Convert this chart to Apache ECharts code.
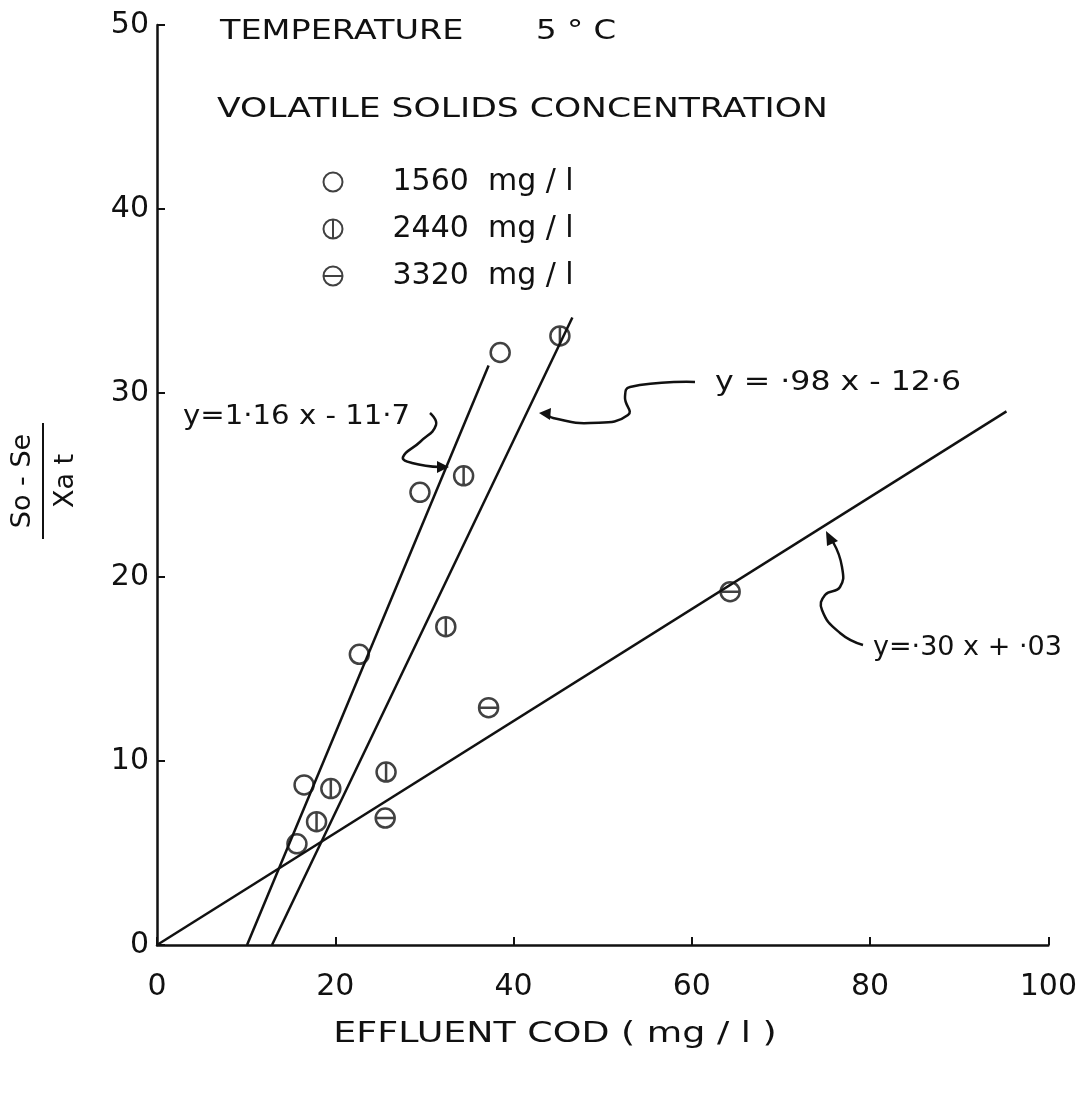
<!DOCTYPE html>
<html>
<head>
<meta charset="utf-8">
<script src="https://cdn.jsdelivr.net/npm/echarts@6/dist/echarts.min.js"></script>
<style>
  html, body { margin: 0; padding: 0; background: #fff; }
  #main { width: 1080px; height: 1095px; }
</style>
</head>
<body>
<div id="main"></div>
<script>
// ticks
const xTicks = [0, 20, 40, 60, 80, 100];
const yTicks = [0, 10, 20, 30, 40, 50];

// volatile solids 1560 mg/l  [effluent COD, (So-Se)/Xat]
const vs1560 = [[38.5, 32.2], [29.5, 24.6], [22.7, 15.8], [16.5, 8.7], [15.7, 5.5]];
// 2440 mg/l
const vs2440 = [[45.2, 33.1], [34.4, 25.5], [32.4, 17.3], [19.5, 8.5], [17.9, 6.7], [25.7, 9.4]];
// 3320 mg/l
const vs3320 = [[64.3, 19.2], [37.2, 12.9], [25.6, 6.9]];

// fitted lines as drawn
const fit1560 = [[10.1, 0], [37.2, 31.5]];
const fit2440 = [[12.9, 0], [46.6, 34.1]];
const fit3320 = [[0, 0], [95.3, 29.0]];

const names = ['1560  mg / l', '2440  mg / l', '3320  mg / l'];

const ring = 'M10,0 A10,10 0 1,1 10,20 A10,10 0 1,1 10,0 Z';
const symOpen = 'path://' + ring;
const symVert = 'path://' + ring + ' M10,0 L10,20';
const symHorz = 'path://' + ring + ' M0,10 L20,10';

const ink = '#111';
const font = 'DejaVu Sans';

const chart = echarts.init(document.getElementById('main'));

function pts(name, data, symbol) {
  return {
    name: name,
    type: 'scatter',
    data: data,
    symbol: symbol,
    symbolSize: 19,
    symbolKeepAspect: true,
    z: 3,
    itemStyle: { color: 'none', borderColor: ink, borderWidth: 2.5 }
  };
}

function fit(data) {
  return {
    type: 'line',
    data: data,
    symbol: 'none',
    silent: true,
    z: 2,
    lineStyle: { color: ink, width: 2.5 }
  };
}

function leader(points) {
  return {
    type: 'polyline',
    shape: { points: points, smooth: 0.5 },
    style: { stroke: ink, lineWidth: 2.5, fill: null }
  };
}

function label(text, x, y, size, sx, align) {
  return {
    type: 'text',
    x: x, y: y,
    scaleX: sx,
    style: { text: text, font: size + 'px "' + font + '"', fill: ink,
             textAlign: align || 'left', textVerticalAlign: 'middle' }
  };
}

const option = {
  backgroundColor: '#fff',
  animation: false,
  grid: { left: 157, right: 20, top: 25, bottom: 150 },
  legend: {
    data: names,
    orient: 'vertical',
    left: 316,
    top: 162,
    itemGap: 17,
    itemWidth: 19,
    itemHeight: 19,
    textStyle: { fontFamily: font, fontSize: 30, color: ink, padding: [0, 0, 0, 45] }
  },
  xAxis: {
    type: 'value',
    min: 0, max: 100, interval: 20,
    axisLine: { lineStyle: { color: ink, width: 2.5 } },
    axisTick: { inside: true, length: 8, lineStyle: { color: ink, width: 2 } },
    axisLabel: { fontFamily: font, fontSize: 30, color: ink, margin: 27,
                 formatter: v => xTicks.includes(v) ? String(v) : '' },
    splitLine: { show: false }
  },
  yAxis: {
    type: 'value',
    min: 0, max: 50, interval: 10,
    axisLine: { show: true, lineStyle: { color: ink, width: 2.5 } },
    axisTick: { show: true, inside: true, length: 8, lineStyle: { color: ink, width: 2 } },
    axisLabel: { fontFamily: font, fontSize: 30, color: ink, margin: 8,
                 formatter: v => yTicks.includes(v) ? String(v) : '' },
    splitLine: { show: false }
  },
  graphic: [
    label('TEMPERATURE', 220, 32, 27, 1.24),
    label('5 ° C', 536, 32, 27, 1.2),
    label('VOLATILE SOLIDS CONCENTRATION', 217, 110, 27, 1.28),
    label('EFFLUENT COD ( mg / l )', 555, 1035, 28, 1.3, 'center'),
    // y axis name as a fraction, rotated
    { type: 'group', x: 43, y: 481, rotation: Math.PI / 2,
      children: [
        { type: 'text', x: 0, y: -20,
          style: { text: 'So - Se', font: '27px "' + font + '"', fill: ink, textAlign: 'center', textVerticalAlign: 'middle' } },
        { type: 'line', shape: { x1: -58, y1: 0, x2: 58, y2: 0 }, style: { stroke: ink, lineWidth: 2 } },
        { type: 'text', x: 0, y: 23,
          style: { text: 'Xa t', font: '27px "' + font + '"', fill: ink, textAlign: 'center', textVerticalAlign: 'middle' } }
      ] },
    label('y=1·16 x - 11·7', 183, 417, 27, 1.08),
    label('y = ·98 x - 12·6', 715, 383, 27, 1.17),
    label('y=·30 x + ·03', 873, 648, 27, 1.0),
    leader([[430, 413], [436, 425], [420, 442], [403, 457], [412, 463], [440, 467]]),
    { type: 'polygon', shape: { points: [[449, 467], [437, 461], [437, 473]] }, style: { fill: ink } },
    leader([[695, 382], [630, 387], [625, 397], [628, 415], [590, 423], [553, 418], [548, 415]]),
    { type: 'polygon', shape: { points: [[539, 413], [551, 408], [550, 420]] }, style: { fill: ink } },
    leader([[863, 645], [840, 633], [822, 610], [825, 595], [840, 587], [842, 567], [833, 542]]),
    { type: 'polygon', shape: { points: [[826, 531], [827, 546], [838, 541]] }, style: { fill: ink } }
  ],
  series: [
    fit(fit1560),
    fit(fit2440),
    fit(fit3320),
    pts(names[0], vs1560, symOpen),
    pts(names[1], vs2440, symVert),
    pts(names[2], vs3320, symHorz)
  ]
};

chart.setOption(option);
</script>
</body>
</html>
